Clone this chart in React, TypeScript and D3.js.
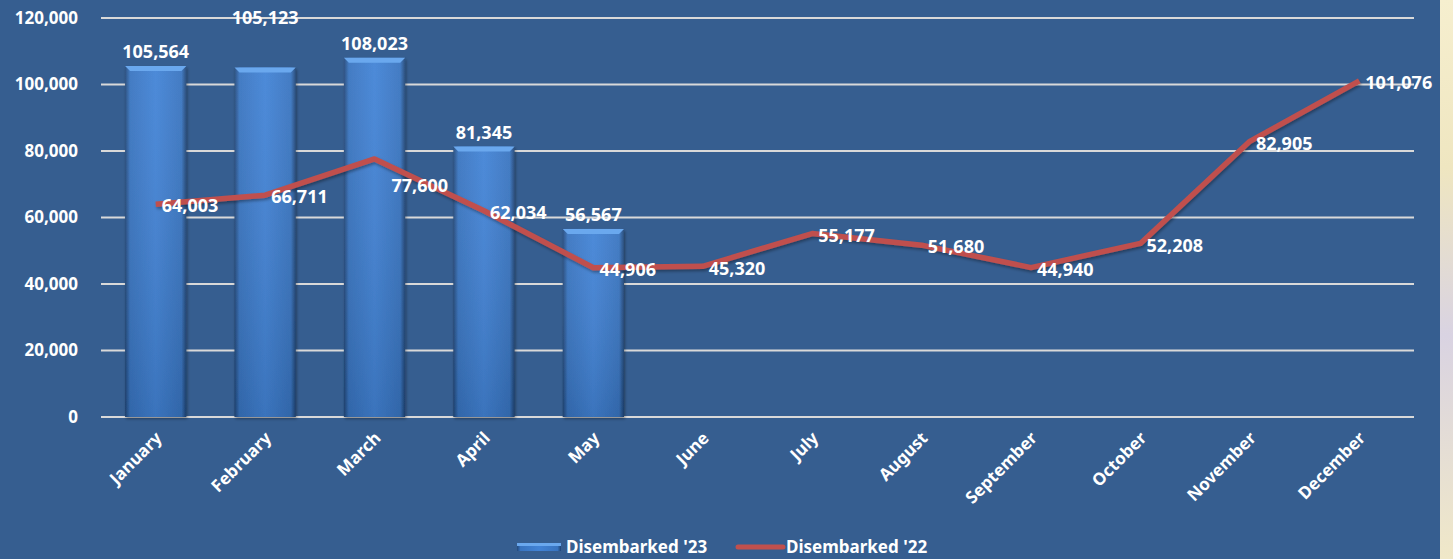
import { useEffect, useRef } from 'react';
import * as d3 from 'd3';

const months = ['January', 'February', 'March', 'April', 'May', 'June', 'July', 'August', 'September', 'October', 'November', 'December'];
const disembarked23 = [105564, 105123, 108023, 81345, 56567];
const disembarked22 = [64003, 66711, 77600, 62034, 44906, 45320, 55177, 51680, 44940, 52208, 82905, 101076];
const yTicks = [0, 20000, 40000, 60000, 80000, 100000, 120000];

const W = 1453;
const H = 559;
const FONT = "'Noto Sans', 'Open Sans', sans-serif";

const App = () => {
  const svgRef = useRef<SVGSVGElement>(null);

  useEffect(() => {
    const svg = d3.select(svgRef.current);
    svg.selectAll('*').remove();

    const margin = { left: 101, right: 1414, top: 18, bottom: 417 };

    const x = d3.scaleBand().domain(months).range([margin.left, margin.right]).paddingInner(0.44).paddingOuter(0.22);
    const y = d3.scaleLinear().domain([0, 120000]).range([margin.bottom, margin.top]);
    const cx = (m: string) => (x(m) as number) + x.bandwidth() / 2;
    const fmt = d3.format(',');

    const defs = svg.append('defs');
    const g = defs.append('linearGradient').attr('id', 'barGrad').attr('x1', 0).attr('x2', 1).attr('y1', 0).attr('y2', 0);
    g.append('stop').attr('offset', '0%').attr('stop-color', '#22487a');
    g.append('stop').attr('offset', '8%').attr('stop-color', '#3874c0');
    g.append('stop').attr('offset', '50%').attr('stop-color', '#4283d6');
    g.append('stop').attr('offset', '92%').attr('stop-color', '#3874c0');
    g.append('stop').attr('offset', '100%').attr('stop-color', '#1f4474');
    const gv = defs.append('linearGradient').attr('id', 'barShade').attr('x1', 0).attr('x2', 0).attr('y1', 0).attr('y2', 1);
    gv.append('stop').attr('offset', '0%').attr('stop-color', '#ffffff').attr('stop-opacity', 0.06);
    gv.append('stop').attr('offset', '100%').attr('stop-color', '#000000').attr('stop-opacity', 0.12);
    const sh = defs.append('filter').attr('id', 'shadow').attr('x', '-10%').attr('y', '-10%').attr('width', '130%').attr('height', '130%');
    sh.append('feDropShadow').attr('dx', 1).attr('dy', 2).attr('stdDeviation', 1.5).attr('flood-color', '#000').attr('flood-opacity', 0.35);

    // background
    svg.append('rect').attr('width', W).attr('height', H).attr('fill', '#365e90');
    const side = defs.append('linearGradient').attr('id', 'side').attr('x1', 0).attr('x2', 0).attr('y1', 0).attr('y2', 1);
    side.append('stop').attr('offset', '0%').attr('stop-color', '#f6efcf');
    side.append('stop').attr('offset', '30%').attr('stop-color', '#efe6c0');
    side.append('stop').attr('offset', '60%').attr('stop-color', '#d9d3e2');
    side.append('stop').attr('offset', '100%').attr('stop-color', '#f0e8c8');
    svg.append('rect').attr('x', 1440).attr('y', 0).attr('width', 13).attr('height', H).attr('fill', 'url(#side)');

    // grid
    svg.append('g').selectAll('line').data(yTicks).enter().append('line')
      .attr('x1', margin.left).attr('x2', margin.right)
      .attr('y1', d => y(d)).attr('y2', d => y(d))
      .attr('stroke', '#d9d9d9').attr('stroke-width', 2);

    // y labels
    svg.append('g').selectAll('text').data(yTicks).enter().append('text')
      .attr('x', 78).attr('y', d => y(d)).attr('dy', '0.35em')
      .attr('text-anchor', 'end').attr('fill', '#fff')
      .attr('font-family', FONT).attr('font-weight', 700).attr('font-size', 17)
      .text(d => fmt(d));

    // bars
    const barData = disembarked23.map((v, i) => ({ m: months[i], v }));
    const bars = svg.append('g').selectAll('g').data(barData).enter().append('g').attr('filter', 'url(#shadow)');
    bars.append('rect')
      .attr('x', d => x(d.m) as number).attr('y', d => y(d.v))
      .attr('width', x.bandwidth()).attr('height', d => y(0) - y(d.v))
      .attr('fill', 'url(#barGrad)');
    bars.append('rect')
      .attr('x', d => x(d.m) as number).attr('y', d => y(d.v))
      .attr('width', x.bandwidth()).attr('height', d => y(0) - y(d.v))
      .attr('fill', 'url(#barShade)');
    bars.append('path')
      .attr('d', d => {
        const x0 = x(d.m) as number, x1 = x0 + x.bandwidth(), t = y(d.v);
        return `M${x0},${t}L${x1},${t}L${x1 - 5},${t + 5}L${x0 + 5},${t + 5}Z`;
      })
      .attr('fill', '#6aa8ee');

    // bar labels (February's sits above the plot in the original)
    svg.append('g').selectAll('text').data(barData).enter().append('text')
      .attr('x', d => cx(d.m))
      .attr('y', d => d.m === 'February' ? y(120000) : y(d.v) - 14)
      .attr('dy', '0.35em').attr('text-anchor', 'middle').attr('fill', '#fff')
      .attr('font-family', FONT).attr('font-weight', 700).attr('font-size', 18)
      .text(d => fmt(d.v));

    // line
    const lineData = disembarked22.map((v, i) => ({ m: months[i], v }));
    const line = d3.line<{ m: string; v: number }>().x(d => cx(d.m)).y(d => y(d.v));
    svg.append('path').datum(lineData)
      .attr('d', line).attr('fill', 'none')
      .attr('stroke', '#c0504d').attr('stroke-width', 5.5).attr('stroke-linejoin', 'round')
      .attr('filter', 'url(#shadow)');

    svg.append('g').selectAll('text').data(lineData).enter().append('text')
      .attr('x', d => cx(d.m) + (d.m === 'March' ? 17 : 6))
      .attr('y', d => y(d.v) + (d.m === 'March' ? 27 : 2))
      .attr('dy', '0.35em').attr('fill', '#fff')
      .attr('font-family', FONT).attr('font-weight', 700).attr('font-size', 18)
      .text(d => fmt(d.v));

    // x labels
    svg.append('g').selectAll('text').data(months).enter().append('text')
      .attr('transform', d => `translate(${cx(d) + 3},${y(0) + 18}) rotate(-45)`)
      .attr('text-anchor', 'end').attr('dy', '0.35em').attr('fill', '#fff')
      .attr('font-family', FONT).attr('font-weight', 700).attr('font-size', 17)
      .text(d => d);

    // legend
    const lg = svg.append('g').attr('font-family', FONT).attr('font-weight', 700).attr('font-size', 17).attr('fill', '#fff');
    lg.append('rect').attr('x', 517).attr('y', 543).attr('width', 44).attr('height', 8).attr('fill', 'url(#barGrad)');
    lg.append('rect').attr('x', 517).attr('y', 543).attr('width', 44).attr('height', 3).attr('fill', '#6aa8ee');
    lg.append('text').attr('x', 566).attr('y', 547).attr('dy', '0.35em').text("Disembarked '23");
    lg.append('line').attr('x1', 738).attr('x2', 783).attr('y1', 547).attr('y2', 547)
      .attr('stroke', '#c0504d').attr('stroke-width', 5).attr('stroke-linecap', 'round');
    lg.append('text').attr('x', 786).attr('y', 547).attr('dy', '0.35em').text("Disembarked '22");
  }, []);

  return (
    <div>
      <svg ref={svgRef} width={W} height={H} style={{ position: 'absolute', left: 0, top: 0 }} />
    </div>
  );
};

export default App;
